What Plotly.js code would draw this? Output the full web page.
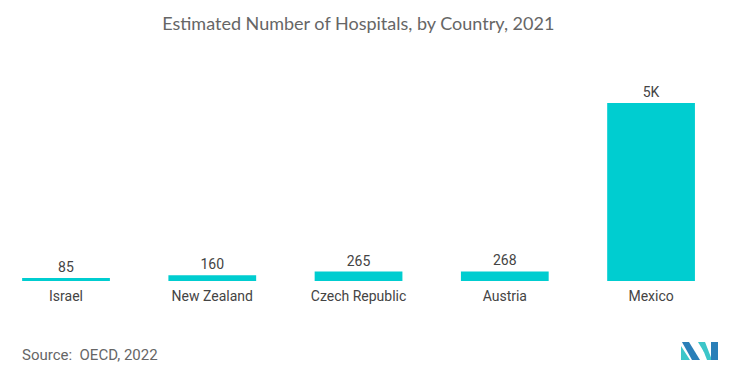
<!DOCTYPE html>
<html><head><meta charset="utf-8">
<script src="https://cdn.plot.ly/plotly-3.0.1.min.js"></script>
<style>html,body{margin:0;padding:0;background:#fff;}#chart{width:748px;height:375px;}</style>
</head><body><div id="chart"></div>
<script>
const countries = ["Israel", "New Zealand", "Czech Republic", "Austria", "Mexico"];
const hospitals = [85, 160, 265, 268, 4990];
const valueLabels = hospitals.map(v => v >= 1000 ? Math.round(v / 1000) + "K" : String(v));

const W = 748, H = 375;
const M = {l: 10, r: 20, t: 80, b: 94};
const pw = W - M.l - M.r, ph = H - M.t - M.b;
const px = x => (x - M.l) / pw;
const py = y => (H - M.b - y) / ph;
function path(pts) {
  return pts.map((p, i) => (i ? "L" : "M") + px(p[0]).toFixed(4) + "," + py(p[1]).toFixed(4)).join(" ") + " Z";
}
const teal = "#3cc6c9", blue = "#2a7fb8";
const logo = [
  {pts: [[681,346],[690,360],[681,360]], c: teal},
  {pts: [[682,342],[689,342],[700,360],[692,360]], c: blue},
  {pts: [[698,342],[704,342],[704,352]], c: teal},
  {pts: [[700,342],[705,342],[712,360],[707,360]], c: teal},
  {pts: [[711,342],[718,342],[718,360],[711,360]], c: blue}
].map(s => ({type: "path", xref: "paper", yref: "paper", path: path(s.pts), fillcolor: s.c, line: {width: 0}}));

const data = [{
  type: "bar",
  x: countries,
  y: hospitals,
  text: valueLabels,
  textposition: "outside",
  cliponaxis: false,
  textfont: {family: "Roboto, sans-serif", size: 14, color: "#444"},
  marker: {color: "#00cdd0"},
  hoverinfo: "none"
}];

const layout = {
  width: W, height: H,
  margin: M,
  paper_bgcolor: "#fff", plot_bgcolor: "#fff",
  bargap: 0.4,
  showlegend: false,
  title: {text: "Estimated Number of Hospitals, by Country, 2021", x: 0.479, xanchor: "center", y: 0.937, yanchor: "middle",
          font: {family: "Lato, 'Open Sans', sans-serif", size: 18, color: "#666"}},
  xaxis: {range: [-0.383, 4.526], showgrid: false, zeroline: false, showline: false, ticks: "", ticklabelstandoff: 5,
          tickfont: {family: "Roboto, sans-serif", size: 14, color: "#444"}, fixedrange: true},
  yaxis: {range: [0, 4990 * ph / 178], visible: false, fixedrange: true},
  shapes: logo,
  annotations: [{text: "Source:  OECD, 2022", xref: "paper", yref: "paper", x: px(20), y: py(355),
                 xanchor: "left", yanchor: "middle", showarrow: false,
                 font: {family: "Roboto, sans-serif", size: 15, color: "#666"}}]
};
Plotly.newPlot("chart", data, layout, {displayModeBar: false, staticPlot: true});
</script></body></html>
